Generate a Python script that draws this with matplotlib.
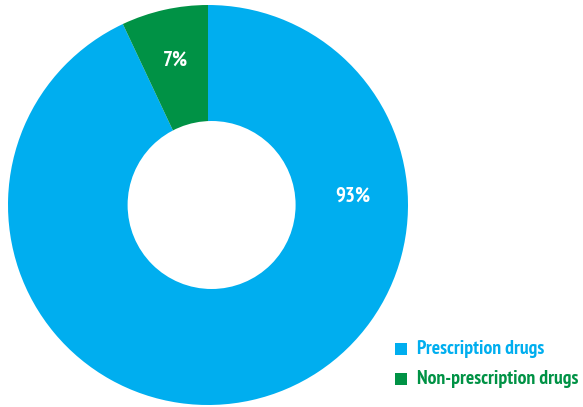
import matplotlib
matplotlib.use("Agg")
import matplotlib.pyplot as plt
from matplotlib.patches import Circle, Rectangle
import numpy as np

categories = ["Prescription drugs", "Non-prescription drugs"]
shares = [93, 7]
colors = ["#00AEEF", "#009245"]

plt.rcParams["font.family"] = ["PT Sans Narrow", "DejaVu Sans"]

W, H = 583, 407
fig = plt.figure(figsize=(W / 100, H / 100), dpi=100)

# Donut axes: centre (208, 205) px from top-left, radius 200 px
cx, cy, r = 208, 205, 200
ax = fig.add_axes([(cx - r) / W, (H - cy - r) / H, 2 * r / W, 2 * r / H])

wedges, _ = ax.pie(shares, colors=colors, startangle=90, counterclock=False,
                   radius=1.0, wedgeprops=dict(linewidth=0))
ax.set_xlim(-1, 1)
ax.set_ylim(-1, 1)
ax.set_aspect("equal")
ax.axis("off")
ax.add_patch(Circle((0.018, 0.0), 0.42, facecolor="white", edgecolor="none", zorder=3))

# Percentage labels
green_mid = np.deg2rad(90 + shares[1] / 100 * 360 / 2)
ax.text(0.74 * np.cos(green_mid), 0.74 * np.sin(green_mid), f"{shares[1]}%",
        color="white", fontsize=15, fontweight="bold", ha="center", va="center", zorder=4)
ax.text(0.725, 0.045, f"{shares[0]}%",
        color="white", fontsize=15, fontweight="bold", ha="center", va="center", zorder=4)

# Legend: coloured squares with matching coloured text
leg_rows_y = [349, 379]
for name, col, y in zip(categories, colors, leg_rows_y):
    fig.patches.append(Rectangle((395 / W, (H - y - 6) / H), 12 / W, 12 / H,
                                 transform=fig.transFigure, facecolor=col,
                                 edgecolor="none"))
    fig.text(417 / W, (H - y) / H, name, color=col, fontsize=14.2,
             fontweight="bold", ha="left", va="center")

fig.savefig("out.png", dpi=100, facecolor="white")
